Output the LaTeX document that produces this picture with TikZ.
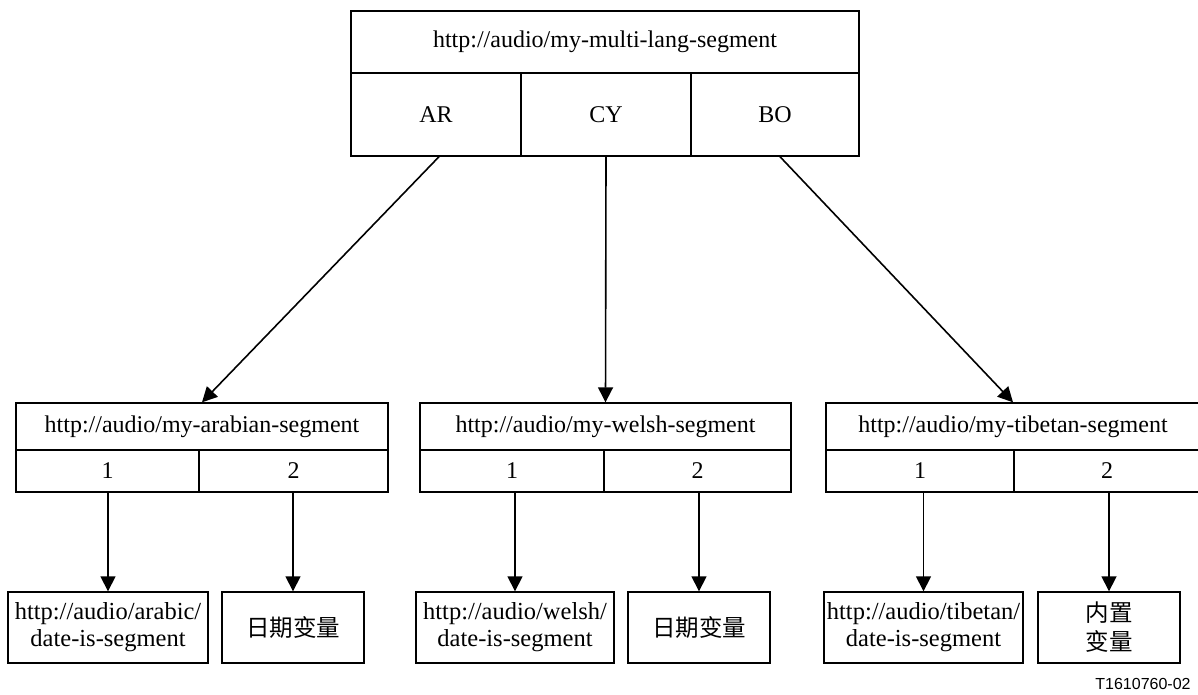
\documentclass[tikz,border=0pt]{standalone}
\usepackage{fontspec}
\setmainfont{Liberation Serif}
\newfontfamily\cjk{Noto Sans CJK SC}
\newfontfamily\labelfont{Liberation Sans}
\usetikzlibrary{arrows.meta,calc}
\begin{document}
\begin{tikzpicture}[x=1pt,y=-1pt,
  cell/.style 2 args={draw,line width=1.4pt,inner sep=0pt,minimum width=#1,minimum height=#2,anchor=center,font=\fontsize{24}{28}\selectfont},
  leaf/.style 2 args={draw,line width=1.4pt,inner sep=0pt,minimum width=#1,minimum height=#2,anchor=center,align=center,font=\fontsize{24.5}{27}\selectfont},
  cjkleaf/.style 2 args={draw,line width=1.4pt,inner sep=0pt,minimum width=#1,minimum height=#2,anchor=center,align=center,font=\cjk\fontsize{23.5}{29}\selectfont},
  arr/.style={line width=1.6pt,-{Triangle[length=15pt,width=15pt]}}]
\useasboundingbox (0,0) rectangle (1198,695);
% top
\node[cell={508}{62}] (top) at (605,42) {http://audio/my-multi-lang-segment};
\node[cell={170}{83}] (AR) at (436,114.5) {AR};
\node[cell={170}{83}] (CY) at (606,114.5) {CY};
\node[cell={168}{83}] (BO) at (775,114.5) {BO};
% level 2 arabian
\node[cell={372}{47}] (ar) at (202,426.5) {http://audio/my-arabian-segment};
\node[cell={183}{42}] (ar1) at (107.5,471) {1};
\node[cell={189}{42}] (ar2) at (293.5,471) {2};
% welsh
\node[cell={371}{47}] (cy) at (605.5,426.5) {http://audio/my-welsh-segment};
\node[cell={184}{42}] (cy1) at (512,471) {1};
\node[cell={187}{42}] (cy2) at (697.5,471) {2};
% tibetan
\node[cell={374}{47}] (bo) at (1013,426.5) {http://audio/my-tibetan-segment};
\node[cell={188}{42}] (bo1) at (920,471) {1};
\node[cell={186}{42}] (bo2) at (1107,471) {2};
% leaves
\node[leaf={200}{71}] (arA) at (108,627.5) {http://audio/arabic/\\date-is-segment};
\node[cjkleaf={142}{71}] (arB) at (293,627.5) {日期变量};
\node[leaf={198}{71}] (cyA) at (515,627.5) {http://audio/welsh/\\date-is-segment};
\node[cjkleaf={142}{71}] (cyB) at (699,627.5) {日期变量};
\node[leaf={199}{71}] (boA) at (923.5,627.5) {http://audio/tibetan/\\date-is-segment};
\node[cjkleaf={142}{71}] (boB) at (1109,627.5) {内置\\变量};
% arrows
\draw[arr] ($(AR.south)+(3,0)$) -- (ar.north);
\draw[arr] (CY.south) -- (cy.north);
\draw[arr] ($(BO.south)+(5,0)$) -- (bo.north);
\draw[arr] (arA.north |- ar1.south) -- (arA.north);
\draw[arr] (arB.north |- ar2.south) -- (arB.north);
\draw[arr] (cyA.north |- cy1.south) -- (cyA.north);
\draw[arr] (cyB.north |- cy2.south) -- (cyB.north);
\draw[arr] (boA.north |- bo1.south) -- (boA.north);
\draw[arr] (boB.north |- bo2.south) -- (boB.north);
\node[font=\labelfont\fontsize{16}{18}\selectfont,inner sep=0pt] (lbl) at (1143,684) {T1610760-02};
\end{tikzpicture}
\end{document}
